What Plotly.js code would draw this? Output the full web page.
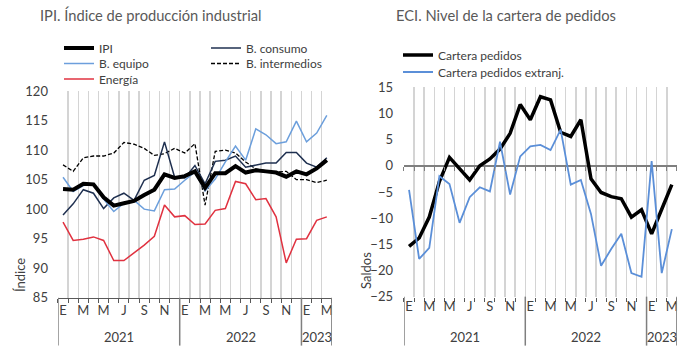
<!DOCTYPE html>
<html><head><meta charset="utf-8">
<script src="https://cdn.plot.ly/plotly-3.0.1.min.js"></script>
<style>html,body{margin:0;padding:0;background:#fff}#c{width:690px;height:360px}</style>
</head><body><div id="c"></div>
<script>
// ---- data ----
const monthLabels = ['E','F','M','A','M','J','J','A','S','O','N','D',
                     'E','F','M','A','M','J','J','A','S','O','N','D',
                     'E','F','M'];
const years = ['2021','2022','2023'];
const yearStart = [0, 12, 24];
const yearEnd = [12, 24, 27];

const ipi = [103.4,103.3,104.3,104.2,102.0,100.6,101.0,101.4,102.4,103.3,105.9,105.3,105.6,106.4,103.6,106.1,106.1,107.3,106.2,106.6,106.4,106.2,105.5,106.4,105.9,106.9,108.3];
const consumo = [99.0,100.9,103.3,102.7,100.1,101.9,102.7,101.5,104.9,105.7,111.4,105.4,105.3,107.4,104.3,108.1,108.3,109.0,107.1,107.5,107.8,107.8,109.6,109.6,107.8,107.1,108.7];
const equipo = [105.4,103.0,104.0,104.3,101.7,99.6,101.0,101.5,100.0,99.7,103.3,103.4,104.9,106.3,103.1,105.1,108.0,110.7,108.3,113.6,112.6,111.1,111.4,114.9,111.4,112.9,115.9];
const intermedios = [107.5,106.4,108.7,109.0,109.0,109.5,111.3,111.0,110.3,109.1,109.4,110.3,109.5,111.1,100.7,109.8,110.0,109.5,108.0,106.8,106.5,106.3,106.4,105.0,105.0,104.5,104.9];
const energia = [97.8,94.7,94.9,95.3,94.7,91.3,91.3,92.6,93.9,95.4,100.7,98.7,98.9,97.4,97.5,99.8,100.1,104.7,104.3,101.6,101.8,98.7,90.9,94.9,95.0,98.1,98.7];

const cartera = [-15.4,-13.8,-9.8,-3.0,1.6,-0.6,-2.7,0.0,1.3,3.2,6.2,11.7,8.8,13.2,12.6,6.4,5.6,8.8,-2.5,-5.1,-5.9,-6.3,-9.8,-8.4,-13.0,-8.3,-3.6];
const extranj = [-4.6,-17.8,-15.7,-2.0,-3.5,-10.9,-6.0,-4.1,-4.9,4.6,-5.5,1.8,3.7,4.0,3.0,6.9,-3.6,-2.7,-9.2,-19.1,-15.9,-13.0,-20.5,-21.2,0.9,-20.5,-12.1];

// ---- build ----
const idx = monthLabels.map((_, i) => i);
const tickvals = idx.filter(i => i % 2 === 0);
const ticktext = tickvals.map(i => monthLabels[i]);
const FONT = 'Lato, "Open Sans", sans-serif';
const TXT = '#404040';

const yDom1 = [0.173, 0.747], yRange1 = [85, 120];
const yDom2 = [0.176, 0.7575], yRange2 = [-25, 15];
const xDom1 = [0.084, 0.481], xDom2 = [0.5855, 0.981];
const zeroPos = yDom2[0] + (0 - yRange2[0]) / (yRange2[1] - yRange2[0]) * (yDom2[1] - yDom2[0]);

const traces = [
  {x: idx, y: energia, name: 'Energía', type: 'scatter', mode: 'lines', line: {color: '#e03240', width: 1.5}, xaxis: 'x', yaxis: 'y', legend: 'legend4'},
  {x: idx, y: intermedios, name: 'B. intermedios', type: 'scatter', mode: 'lines', line: {color: '#000', width: 1.3, dash: '4px,2px'}, legendrank: 2, xaxis: 'x', yaxis: 'y', legend: 'legend3'},
  {x: idx, y: consumo, name: 'B. consumo', type: 'scatter', mode: 'lines', line: {color: '#1f3050', width: 1.5}, legendrank: 2, xaxis: 'x', yaxis: 'y', legend: 'legend'},
  {x: idx, y: equipo, name: 'B. equipo', type: 'scatter', mode: 'lines', line: {color: '#6c9fdc', width: 1.5}, legendrank: 1, xaxis: 'x', yaxis: 'y', legend: 'legend3'},
  {x: idx, y: ipi, name: 'IPI', type: 'scatter', mode: 'lines', line: {color: '#000', width: 4}, legendrank: 1, xaxis: 'x', yaxis: 'y', legend: 'legend'},
  {x: idx, y: cartera, name: 'Cartera pedidos', type: 'scatter', mode: 'lines', line: {color: '#000', width: 3.5}, xaxis: 'x2', yaxis: 'y2', legend: 'legend2'},
  {x: idx, y: extranj, name: 'Cartera pedidos extranj.', type: 'scatter', mode: 'lines', line: {color: '#5b8fd8', width: 1.8}, xaxis: 'x2', yaxis: 'y2', legend: 'legend5'}
];

function xAxis(dom, anchor, showline) {
  return {
    domain: dom, anchor: anchor, range: [-0.5, 26.5], tickmode: 'array', tickvals: tickvals, ticktext: ticktext,
    ticks: '', showgrid: false, zeroline: false, showline: showline, linecolor: '#595959', linewidth: 1.5,
    tickfont: {family: FONT, size: 13, color: TXT}, ticklabelstandoff: 0,
    minor: {tickmode: 'linear', tick0: -0.5, dtick: 1, showgrid: true, gridcolor: '#d4d4d4', gridwidth: 1.5,
            ticks: 'outside', ticklen: 4, tickcolor: '#595959', tickwidth: 1},
    fixedrange: true
  };
}

const shapes = [];
const annotations = [];
[[xDom1, 'x', yDom1], [xDom2, 'x2', yDom2]].forEach(([xd, xr, yd]) => {
  const bounds = new Set();
  yearStart.forEach((s, k) => { bounds.add(s - 0.5); bounds.add(yearEnd[k] - 0.5); });
  bounds.forEach(b => shapes.push({type: 'line', xref: xr, yref: 'paper', x0: b, x1: b, y0: yd[0], y1: 0.04,
                                   line: {color: '#7f7f7f', width: 1.5}}));
  years.forEach((yr, k) => annotations.push({text: yr, xref: xr, yref: 'paper', x: (yearStart[k] + yearEnd[k] - 1) / 2,
                                   y: (360-337)/360, xanchor: 'center', yanchor: 'middle', showarrow: false,
                                   font: {family: FONT, size: 13, color: TXT}}));
});

annotations.push({text: 'IPI. Índice de producción industrial', xref: 'paper', yref: 'paper', x: 38/690, y: (360-15)/360,
  xanchor: 'left', yanchor: 'middle', showarrow: false, font: {family: FONT, size: 14.7, color: '#595959'}});
annotations.push({text: 'ECI. Nivel de la cartera de pedidos', xref: 'paper', yref: 'paper', x: 394/690, y: (360-15)/360,
  xanchor: 'left', yanchor: 'middle', showarrow: false, font: {family: FONT, size: 14.7, color: '#595959'}});
annotations.push({text: 'Índice', xref: 'paper', yref: 'paper', x: 20/690, y: (360-275)/360, textangle: -90,
  xanchor: 'center', yanchor: 'middle', showarrow: false, font: {family: FONT, size: 13, color: TXT}});
annotations.push({text: 'Saldos', xref: 'paper', yref: 'paper', x: 366/690, y: (360-271)/360, textangle: -90,
  xanchor: 'center', yanchor: 'middle', showarrow: false, font: {family: FONT, size: 13, color: TXT}});

const legFont = {family: FONT, size: 12, color: TXT};
function leg(xpx, rowCenterPx, ew) {
  return {orientation: 'h', x: xpx/690, y: (360 - (rowCenterPx - 14.5))/360, xanchor: 'left', yanchor: 'top',
          entrywidth: ew, entrywidthmode: 'pixels', font: legFont, bgcolor: 'rgba(0,0,0,0)', tracegroupgap: 0};
}
const layout = {
  width: 690, height: 360, margin: {l: 0, r: 0, t: 0, b: 0}, paper_bgcolor: '#fff', plot_bgcolor: '#fff',
  font: {family: FONT, color: TXT},
  xaxis: xAxis(xDom1, 'y', true),
  xaxis2: xAxis(xDom2, 'y2', false),
  xaxis3: {overlaying: 'x2', anchor: 'free', position: zeroPos, range: [-0.5, 26.5], showticklabels: false,
           showgrid: false, zeroline: false, showline: false, tickmode: 'linear', tick0: -0.5, dtick: 1,
           ticks: 'outside', ticklen: 4, tickcolor: '#7f7f7f', fixedrange: true},
  yaxis: {domain: yDom1, anchor: 'x', range: yRange1, dtick: 5, showgrid: false, zeroline: false, showline: false,
          ticks: '', tickfont: {family: FONT, size: 13, color: TXT}, ticklabelstandoff: 9, fixedrange: true},
  yaxis2: {domain: yDom2, anchor: 'x2', range: yRange2, dtick: 5, showgrid: false, zeroline: true,
           zerolinecolor: '#7f7f7f', zerolinewidth: 1.5, showline: false,
           ticks: '', tickfont: {family: FONT, size: 13, color: TXT}, ticklabelstandoff: 10, fixedrange: true},
  legend: leg(59, 48, 102),
  legend3: leg(59, 63.5, 102),
  legend4: leg(59, 79, 102),
  legend2: leg(398, 55, 200),
  legend5: leg(398, 72, 200),
  shapes: shapes, annotations: annotations, showlegend: true
};

// invisible helper trace so the zero-line tick axis (xaxis3) is drawn
traces.push({x: [0], y: [0], xaxis: 'x3', yaxis: 'y2', type: 'scatter', mode: 'markers', marker: {opacity: 0}, showlegend: false, hoverinfo: 'skip'});

Plotly.newPlot('c', traces, layout, {displayModeBar: false, staticPlot: true});
</script></body></html>
